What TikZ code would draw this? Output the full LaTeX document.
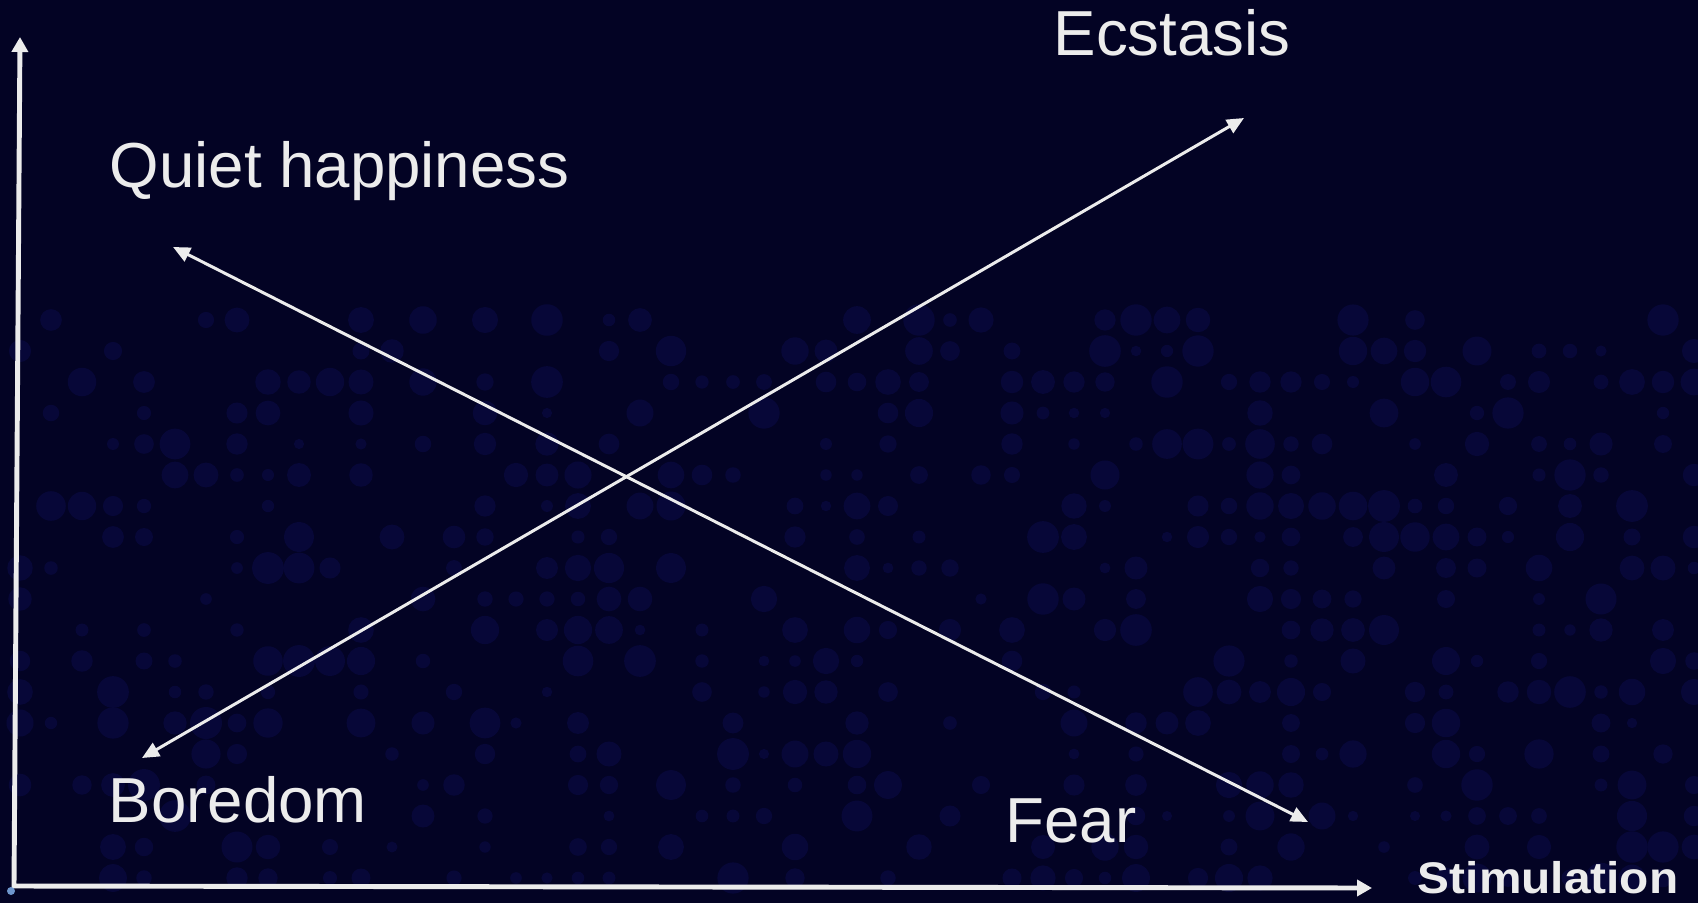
\documentclass[tikz,border=0pt]{standalone}
\usepackage{fontspec}
\setmainfont{Liberation Sans}
\usetikzlibrary{arrows.meta}
\definecolor{slidebg}{RGB}{3,3,36}
\definecolor{dotblue}{RGB}{7,7,56}
\definecolor{labelgray}{RGB}{236,236,236}
\definecolor{cornerdot}{RGB}{110,150,205}

\begin{document}
\begin{tikzpicture}[
	feeling/.style={text=labelgray, inner sep=0, anchor=base west, font=\fontsize{18.1}{21}\selectfont},
	axisline/.style={draw=labelgray, line width=1.4pt, line join=miter, {Triangle[length=0.15cm, width=0.16cm]}-{Triangle[length=0.15cm, width=0.16cm]}},
	swing/.style={draw=labelgray, line width=0.85pt, {Triangle[length=0.17cm, width=0.15cm]}-{Triangle[length=0.17cm, width=0.15cm]}}
	]
	% Background
	\fill[slidebg] (0,0) rectangle (16.98,9.03);
	\useasboundingbox (0,0) rectangle (16.98,9.03);
	\pgfmathsetseed{42}
	\foreach \i in {0,...,54} {
		\foreach \j in {0,...,18} {
			\pgfmathsetmacro{\keep}{rnd}
			\ifdim\keep pt>0.55pt
				\fill[dotblue] (0.2+0.31*\i, 0.25+0.31*\j) circle ({0.05+0.11*rnd});
			\fi
		}
	}

	% Axes
	\coordinate (origin) at (0.14,0.17);
	\coordinate (ytip) at (0.20,8.66);
	\coordinate (xtip) at (13.72,0.15);
	\draw[axisline] (ytip) -- (origin) -- (xtip);
	\fill[cornerdot] (0.11,0.12) circle (0.04);

	% Feelings
	\node[feeling] (ecstasis) at (10.53,8.47) {Ecstasis};
	\node[feeling] (quiet) at (1.09,7.15) {Quiet happiness};
	\node[feeling] (boredom) at (1.08,0.81) {Boredom};
	\node[feeling] (fear) at (10.05,0.61) {Fear};

	% Arrow ends
	\coordinate (boredomend) at (1.42,1.45);
	\coordinate (ecstasisend) at (12.44,7.85);
	\coordinate (quietend) at (1.73,6.56);
	\coordinate (fearend) at (13.08,0.81);

	\draw[swing] (boredomend) -- (ecstasisend);
	\draw[swing] (quietend) -- (fearend);

	% Axis label
	\node[text=labelgray, inner sep=0, anchor=base east, font=\bfseries\fontsize{12.6}{14}\selectfont] (stimulation) at (16.79,0.10) {\scalebox{1.08}[1]{Stimulation}};
\end{tikzpicture}
\end{document}
